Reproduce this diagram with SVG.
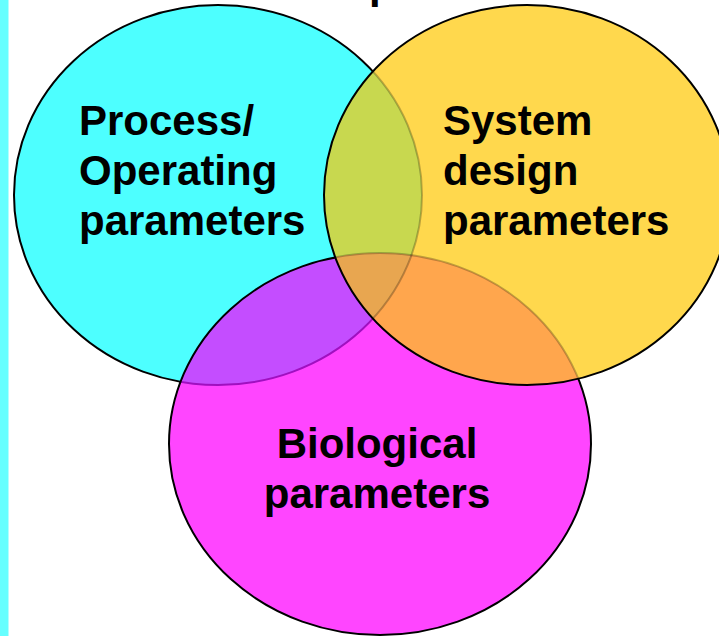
<svg xmlns="http://www.w3.org/2000/svg" xmlns:xlink="http://www.w3.org/1999/xlink" width="719" height="636" viewBox="0 0 719 636">
<style>
.lbl{font-family:"Liberation Sans",Arial,sans-serif;font-weight:bold;font-size:42px;fill:#000}
.edge{fill:none;stroke:#000;stroke-width:2}
</style>
<defs>
<ellipse id="eC" cx="218" cy="195" rx="204" ry="190"/>
<ellipse id="eM" cx="380" cy="444" rx="211" ry="191"/>
<ellipse id="eY" cx="527" cy="195" rx="203" ry="190"/>
<clipPath id="cC"><use xlink:href="#eC"/></clipPath>
<clipPath id="cM"><use xlink:href="#eM"/></clipPath>
<clipPath id="cY"><use xlink:href="#eY"/></clipPath>
</defs>
<rect x="0" y="0" width="719" height="636" fill="#fff"/>
<rect x="0" y="0" width="8.5" height="636" fill="#66FFFF"/>
<text class="lbl" x="369" y="-2">p</text>
<g id="node-process">
<use xlink:href="#eC" fill="#4DFFFF"/>
<use xlink:href="#eC" class="edge"/>
</g>
<g id="node-biological">
<use xlink:href="#eM" fill="#FF45FF"/>
<use xlink:href="#eM" fill="#C44DFF" clip-path="url(#cC)"/>
<use xlink:href="#eC" fill="none" stroke="#A010C0" stroke-width="2" clip-path="url(#cM)"/>
<use xlink:href="#eM" class="edge"/>
</g>
<g id="node-system">
<use xlink:href="#eY" fill="#FFD84D"/>
<use xlink:href="#eY" fill="#C8D84F" clip-path="url(#cC)"/>
<use xlink:href="#eY" fill="#FFA64D" clip-path="url(#cM)"/>
<g clip-path="url(#cC)"><use xlink:href="#eY" fill="#E8A650" clip-path="url(#cM)"/></g>
<g clip-path="url(#cY)">
<use xlink:href="#eC" fill="none" stroke="#000" stroke-opacity="0.25" stroke-width="2"/>
<use xlink:href="#eM" fill="none" stroke="#000" stroke-opacity="0.25" stroke-width="2"/>
</g>
<use xlink:href="#eY" class="edge"/>
</g>
<g id="labels">
<text class="lbl" x="79" y="135">Process/</text>
<text class="lbl" x="79" y="185">Operating</text>
<text class="lbl" x="79" y="235">parameters</text>
<text class="lbl" x="443" y="135">System</text>
<text class="lbl" x="443" y="185">design</text>
<text class="lbl" x="443" y="235">parameters</text>
<text class="lbl" x="377" y="458" text-anchor="middle">Biological</text>
<text class="lbl" x="377" y="508" text-anchor="middle">parameters</text>
</g>
<g id="connectors"/>
</svg>
